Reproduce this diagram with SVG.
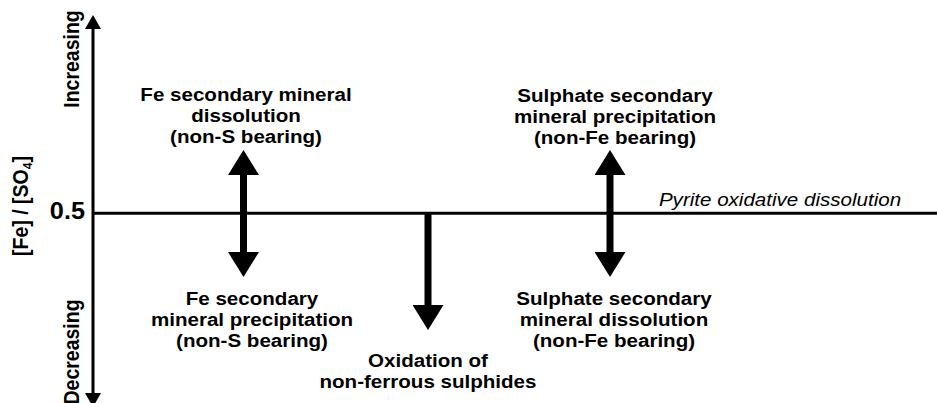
<svg xmlns="http://www.w3.org/2000/svg" width="937" height="403" viewBox="0 0 937 403">
<style>
.lbl{font-family:"Liberation Sans",Arial,sans-serif;font-weight:bold;font-size:18.7px;fill:#000;text-anchor:middle}
.it{font-family:"Liberation Sans",Arial,sans-serif;font-style:italic;font-size:18.7px;fill:#000;text-anchor:middle}
.ax{font-family:"Liberation Sans",Arial,sans-serif;font-weight:bold;font-size:19.5px;fill:#000;text-anchor:middle}
.big{stroke:#000;stroke-width:7;fill:none}
.axis{stroke:#000;stroke-width:3;fill:none}
</style>
<defs>
<marker id="bigHead" markerUnits="userSpaceOnUse" markerWidth="25" markerHeight="31" refX="0" refY="15.5" orient="auto-start-reverse" viewBox="0 0 25 31"><path d="M0,0 L25,15.5 L0,31 z" fill="#000"/></marker>
<marker id="axHead" markerUnits="userSpaceOnUse" markerWidth="14" markerHeight="16" refX="0" refY="8" orient="auto-start-reverse" viewBox="0 0 14 16"><path d="M0,0 L14,8 L0,16 z" fill="#000"/></marker>
</defs>
<g id="connectors">
<line id="y-axis" class="axis" x1="93" y1="29" x2="93" y2="393" marker-start="url(#axHead)" marker-end="url(#axHead)"/>
<line id="baseline" class="axis" x1="93" y1="213.3" x2="937" y2="213.3"/>
<line class="big" x1="243.5" y1="175" x2="243.5" y2="252" marker-start="url(#bigHead)" marker-end="url(#bigHead)"/>
<line class="big" x1="610" y1="175" x2="610" y2="252" marker-start="url(#bigHead)" marker-end="url(#bigHead)"/>
<line class="big" x1="428" y1="213" x2="428" y2="305" marker-end="url(#bigHead)"/>
</g>
<g id="axis-labels">
<g transform="translate(28,206) scale(1.1,1) rotate(-90)"><text class="ax" x="0" y="0">[Fe] / [SO<tspan font-size="12" dy="4">4</tspan><tspan dy="-4">]</tspan></text></g>
<g transform="translate(79,59) scale(1.1,1) rotate(-90)"><text class="ax" x="0" y="0">Increasing</text></g>
<g transform="translate(79,352) scale(1.1,1) rotate(-90)"><text class="ax" x="0" y="0">Decreasing</text></g>
<g transform="translate(85,218.5) scale(1.1,1)"><text class="lbl" style="font-size:23px;text-anchor:end" x="0" y="0">0.5</text></g>
</g>
<g id="pyrite" transform="translate(780,0) scale(1.1,1)"><text class="it" x="0" y="206.5">Pyrite oxidative dissolution</text></g>
<g id="fe-dissolution" transform="translate(246,0) scale(1.1,1)">
<text class="lbl" x="0" y="101">Fe secondary mineral</text>
<text class="lbl" x="0" y="122">dissolution</text>
<text class="lbl" x="0" y="143">(non-S bearing)</text>
</g>
<g id="sulphate-precipitation" transform="translate(615,0) scale(1.1,1)">
<text class="lbl" x="0" y="102">Sulphate secondary</text>
<text class="lbl" x="0" y="123">mineral precipitation</text>
<text class="lbl" x="0" y="144">(non-Fe bearing)</text>
</g>
<g id="fe-precipitation" transform="translate(252,0) scale(1.1,1)">
<text class="lbl" x="0" y="305">Fe secondary</text>
<text class="lbl" x="0" y="326">mineral precipitation</text>
<text class="lbl" x="0" y="347">(non-S bearing)</text>
</g>
<g id="sulphate-dissolution" transform="translate(614,0) scale(1.1,1)">
<text class="lbl" x="0" y="305">Sulphate secondary</text>
<text class="lbl" x="0" y="326">mineral dissolution</text>
<text class="lbl" x="0" y="347">(non-Fe bearing)</text>
</g>
<g id="oxidation" transform="translate(428,0) scale(1.1,1)">
<text class="lbl" x="0" y="367.5">Oxidation of</text>
<text class="lbl" x="0" y="388">non-ferrous sulphides</text>
</g>
</svg>
